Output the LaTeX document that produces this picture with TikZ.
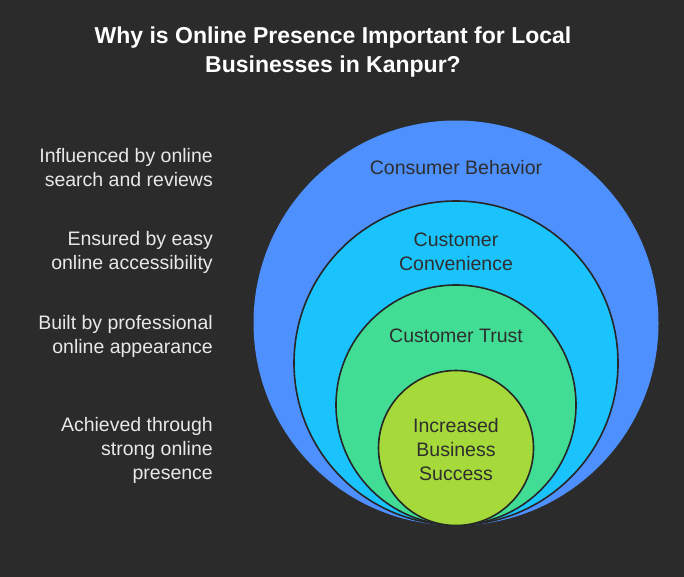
\documentclass[tikz,border=0pt]{standalone}
\usepackage{fontspec}
\setmainfont{Liberation Sans}
\definecolor{bg}{HTML}{2B2B2B}
\definecolor{cA}{HTML}{4D90FE}
\definecolor{cB}{HTML}{1AC3FB}
\definecolor{cC}{HTML}{42DD95}
\definecolor{cD}{HTML}{A6D93A}
\definecolor{ink}{HTML}{2E2E2E}
\definecolor{rim}{HTML}{262626}
\definecolor{side}{HTML}{E8E8E8}
\tikzset{
  ring/.style={circle, inner sep=0pt, draw=rim, line width=1.6pt},
  lbl/.style={text=ink, align=center, font=\fontsize{19.5}{24}\selectfont},
  sidetxt/.style={text=side, align=right, anchor=east, inner sep=0pt, font=\fontsize{19.5}{24}\selectfont},
  ttl/.style={text=white, align=center, font=\bfseries\fontsize{23}{29}\selectfont}
}
\begin{document}
\begin{tikzpicture}[x=1pt,y=-1pt]
\fill[bg] (0,0) rectangle (684,577);
\useasboundingbox (0,0) rectangle (684,577);
\node[circle, inner sep=0pt, fill=cA, minimum size=405pt] (outer) at (456,323) {};
\node[ring, fill=cB, minimum size=324pt] (conv) at (456,363) {};
\node[ring, fill=cC, minimum size=240pt] (trust) at (456,405) {};
\node[ring, fill=cD, minimum size=155pt] (succ) at (456,448) {};
\node[lbl] (tcb) at (456,168) {Consumer Behavior};
\node[lbl] (tcc) at (456,252) {Customer\\Convenience};
\node[lbl] (tct) at (456,336) {Customer Trust};
\node[lbl] (tbs) at (456,450) {Increased\\Business\\Success};
\node[sidetxt] (s1) at (213,168) {Influenced by online\\search and reviews};
\node[sidetxt] (s2) at (213,252) {Ensured by easy\\online accessibility};
\node[sidetxt] (s3) at (213,336) {Built by professional\\online appearance};
\node[sidetxt] (s4) at (213,450) {Achieved through\\strong online\\presence};
\node[ttl] (title) at (333,52) {Why is Online Presence Important for Local\\Businesses in Kanpur?};
\end{tikzpicture}
\end{document}
